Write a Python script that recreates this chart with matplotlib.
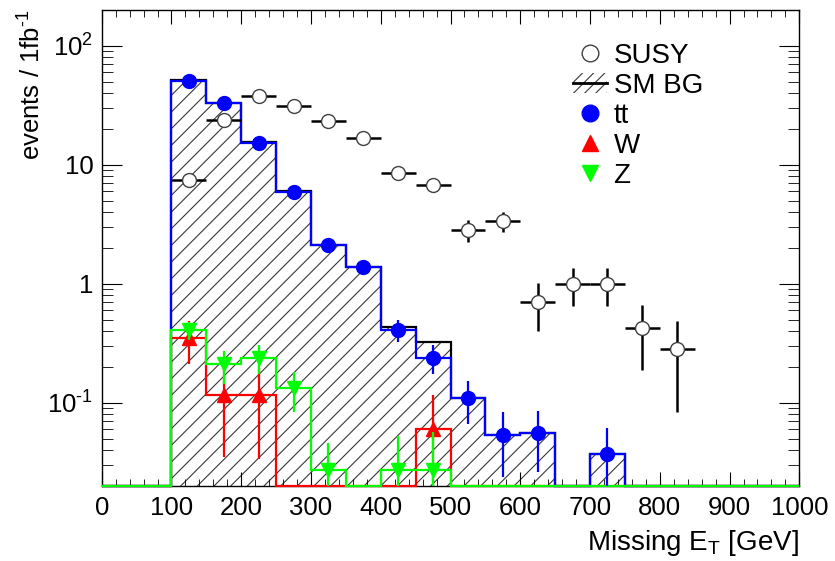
import numpy as np
import matplotlib
matplotlib.use('Agg')
import matplotlib.pyplot as plt
from matplotlib.patches import Patch
from matplotlib.lines import Line2D
from matplotlib.ticker import FixedLocator, FixedFormatter, LogLocator, MultipleLocator, NullFormatter

plt.rcParams['font.family'] = ['Liberation Sans', 'DejaVu Sans']
plt.rcParams['mathtext.fontset'] = 'custom'
plt.rcParams['mathtext.rm'] = 'Liberation Sans'
plt.rcParams['mathtext.it'] = 'Liberation Sans:italic'
plt.rcParams['hatch.linewidth'] = 0.8

# missing ET bins, 50 GeV wide
edges = np.arange(0, 1001, 50)
centers = 0.5 * (edges[:-1] + edges[1:])

# events / 1fb^-1 per bin
tt = np.array([0, 0, 51, 33, 15.3, 5.9, 2.1, 1.38, 0.41, 0.24,
               0.11, 0.054, 0.056, 0, 0.037, 0, 0, 0, 0, 0])
tt_err = np.array([0, 0, 2.0, 1.5, 1.0, 0.6, 0.3, 0.2, 0.085, 0.065,
                   0.043, 0.03, 0.03, 0, 0.025, 0, 0, 0, 0, 0])
w = np.array([0, 0, 0.35, 0.117, 0.117, 0, 0, 0, 0, 0.06,
              0, 0, 0, 0, 0, 0, 0, 0, 0, 0])
w_err = np.array([0, 0, 0.14, 0.082, 0.083, 0, 0, 0, 0, 0.057,
                  0, 0, 0, 0, 0, 0, 0, 0, 0, 0])
z = np.array([0, 0, 0.41, 0.21, 0.24, 0.133, 0.027, 0, 0.027, 0.027,
              0, 0, 0, 0, 0, 0, 0, 0, 0, 0])
z_err = np.array([0, 0, 0.07, 0.065, 0.065, 0.05, 0.019, 0, 0.026, 0.03,
                  0, 0, 0, 0, 0, 0, 0, 0, 0, 0])
susy = np.array([0, 0, 7.5, 23.7, 37.6, 31, 23.4, 16.9, 8.6, 6.77,
                 2.84, 3.37, 0.71, 1.0, 1.0, 0.427, 0.284, 0, 0, 0])
susy_err = np.array([0, 0, 0.6, 1.2, 1.5, 1.4, 1.2, 1.0, 0.7, 0.9,
                     0.6, 0.66, 0.31, 0.35, 0.35, 0.24, 0.2, 0, 0, 0])

sm = tt + w + z

ymin, ymax = 0.02, 200

fig = plt.figure(figsize=(8.35, 5.61), dpi=100)
ax = fig.add_axes([0.1218, 0.1337, 0.8355, 0.8485])
ax.set_yscale('log')
ax.set_xlim(0, 1000)
ax.set_ylim(ymin, ymax)

def floored(v):
    return np.where(v > 0, v, ymin)

# stacked SM background: hatched fill, black outline
ax.stairs(floored(sm), edges, baseline=ymin, fill=True, facecolor='white',
          edgecolor='#383838', hatch='//', linewidth=0, zorder=1)
ax.stairs(floored(sm), edges, baseline=ymin, color='black', lw=1.6, zorder=2, clip_on=False)

ax.stairs(floored(tt), edges, baseline=ymin, color='#0000ff', lw=1.6, zorder=3, clip_on=False)
ax.stairs(floored(w), edges, baseline=ymin, color='#ff0000', lw=1.6, zorder=4, clip_on=False)
ax.stairs(floored(z), edges, baseline=ymin, color='#00ff00', lw=1.6, zorder=5, clip_on=False)

m = tt > 0
ax.errorbar(centers[m], tt[m], yerr=tt_err[m], fmt='o', color='#0000ff', ms=10,
            elinewidth=1.6, capsize=0, zorder=6)
m = w > 0
ax.errorbar(centers[m], w[m], yerr=w_err[m], fmt='^', color='#ff0000', ms=10,
            elinewidth=1.6, capsize=0, zorder=7)
m = z > 0
ax.errorbar(centers[m], z[m], yerr=z_err[m], fmt='v', color='#00ff00', ms=10,
            elinewidth=1.6, capsize=0, zorder=8)
m = susy > 0
ax.errorbar(centers[m], susy[m], yerr=susy_err[m], xerr=25, fmt='o', color='black',
            mfc='white', mec='#404040', ms=10, mew=1.0, elinewidth=1.8, capsize=0, zorder=9)

# axes style
ax.xaxis.set_major_locator(MultipleLocator(100))
ax.xaxis.set_minor_locator(MultipleLocator(20))
ax.yaxis.set_major_locator(FixedLocator([0.1, 1, 10, 100]))
ax.yaxis.set_major_formatter(FixedFormatter([r'$10^{\text{-}1}$', '1', '10', r'$10^{2}$']))
ax.yaxis.set_minor_locator(LogLocator(base=10, subs=np.arange(2, 10)))
ax.yaxis.set_minor_formatter(NullFormatter())
ax.tick_params(which='both', direction='in', top=True, right=True, labelsize=18.5, colors='black')
ax.tick_params(axis='x', which='major', length=10, pad=7)
ax.tick_params(axis='x', which='minor', length=5)
ax.tick_params(axis='y', which='major', length=14.5, pad=6)
ax.tick_params(axis='y', which='minor', length=8)
for s in ax.spines.values():
    s.set_linewidth(1.0)

ax.set_xlabel(r'Missing E$_\mathrm{T}$ [GeV]', loc='right', fontsize=20, labelpad=6)
ax.set_ylabel(r'events / 1fb$^{\text{-}1}$', loc='top', fontsize=18.5, labelpad=1)

handles = [
    Line2D([], [], marker='o', ls='none', mfc='white', mec='#404040', ms=12),
    (Patch(facecolor='white', edgecolor='#383838', hatch='///', linewidth=0),
     Line2D([], [], color='black', lw=2)),
    Line2D([], [], marker='o', ls='none', color='#0000ff', ms=12),
    Line2D([], [], marker='^', ls='none', color='#ff0000', ms=12),
    Line2D([], [], marker='v', ls='none', color='#00ff00', ms=12),
]
labels = ['SUSY', 'SM BG', 'tt', 'W', 'Z']
ax.legend(handles, labels, loc='upper left', bbox_to_anchor=(0.66, 0.955), frameon=False,
          fontsize=20, handlelength=1.2, handletextpad=0.25, labelspacing=0.15,
          borderaxespad=0)

fig.savefig('out.png', dpi=100)
